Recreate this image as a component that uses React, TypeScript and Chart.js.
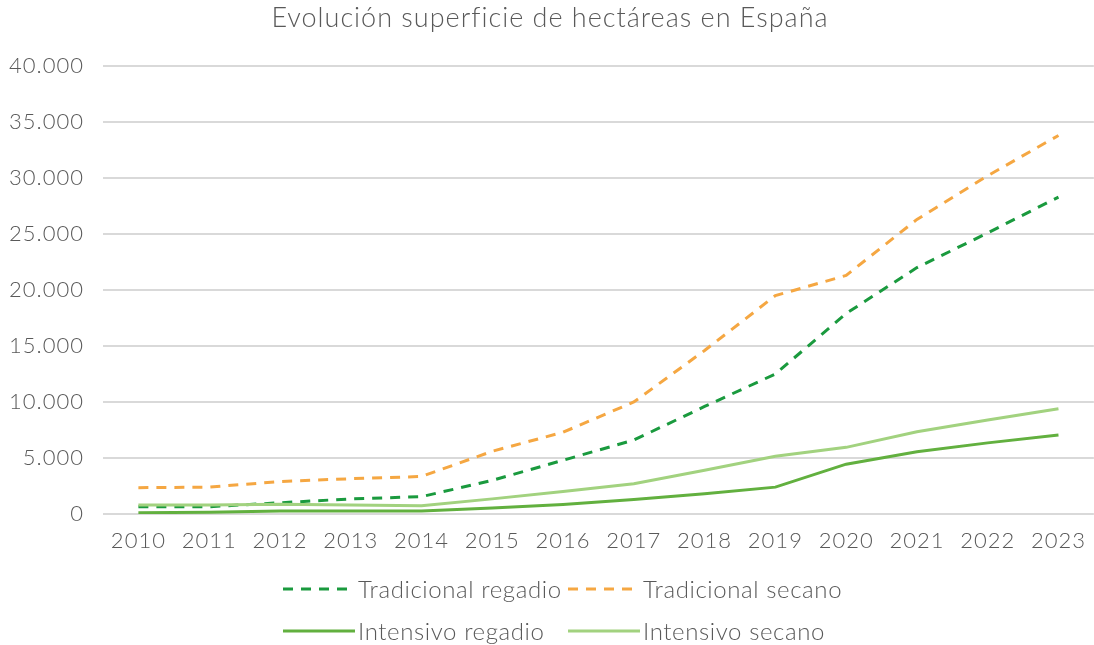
import React, { useEffect, useRef } from "react";
import { Chart, registerables } from "chart.js";

Chart.register(...registerables);

const years = ["2010", "2011", "2012", "2013", "2014", "2015", "2016", "2017", "2018", "2019", "2020", "2021", "2022", "2023"];
const tradicionalRegadio = [650, 650, 1000, 1350, 1550, 3000, 4800, 6600, 9600, 12500, 17900, 22000, 25100, 28300];
const tradicionalSecano = [2350, 2400, 2900, 3150, 3350, 5600, 7300, 10000, 14600, 19500, 21300, 26300, 30200, 33800];
const intensivoRegadio = [120, 150, 270, 270, 270, 540, 850, 1300, 1800, 2400, 4450, 5550, 6350, 7050];
const intensivoSecano = [800, 800, 880, 800, 740, 1350, 2000, 2700, 3900, 5150, 5950, 7350, 8400, 9400];
const seriesNames = ["Tradicional regadio", "Tradicional secano", "Intensivo regadio", "Intensivo secano"];
const seriesColors = ["#1a9a3e", "#f5a742", "#62b03f", "#a2d27f"];
const seriesDashed = [true, true, false, false];
const titleText = "Evolución superficie de hectáreas en España";

const FONT = "Lato, 'Open Sans', sans-serif";
const TEXT = "#595959";
const DASH = [10, 8];

function fmt(v: number): string {
  return String(v).replace(/\B(?=(\d{3})+(?!\d))/g, ".");
}

const spacingPlugin = {
  id: "letterSpacing",
  beforeLayout(chart: any) {
    chart.ctx.letterSpacing = "1px";
  },
  beforeDraw(chart: any) {
    chart.ctx.letterSpacing = "1px";
  },
};

export default function App() {
  const ref = useRef<HTMLCanvasElement | null>(null);

  useEffect(() => {
    if (!ref.current) return;
    const values = [tradicionalRegadio, tradicionalSecano, intensivoRegadio, intensivoSecano];
    const chart = new Chart(ref.current, {
      type: "line",
      data: {
        labels: years,
        datasets: values.map((d, i) => ({
          label: seriesNames[i],
          data: d,
          borderColor: seriesColors[i],
          backgroundColor: seriesColors[i],
          borderWidth: 3,
          borderDash: seriesDashed[i] ? DASH : [],
          borderCapStyle: "butt" as const,
          pointRadius: 0,
          pointHoverRadius: 0,
          tension: 0,
          fill: false,
          order: 4 - i,
        })),
      },
      plugins: [spacingPlugin],
      options: {
        animation: false,
        responsive: false,
        maintainAspectRatio: false,
        layout: { padding: { left: 0, right: 0, top: 0, bottom: 0 } },
        plugins: {
          legend: { display: false },
          tooltip: { enabled: false },
          title: {
            display: true,
            text: titleText,
            color: TEXT,
            font: { family: FONT, size: 27, weight: "300" as any, lineHeight: 1.2 },
            padding: { top: 2, bottom: 31.6 },
          },
        },
        scales: {
          x: {
            offset: true,
            grid: { display: false, drawTicks: false },
            border: { display: false },
            ticks: {
              color: TEXT,
              font: { family: FONT, size: 22, weight: "300" as any },
              padding: 14,
              maxRotation: 0,
              autoSkip: false,
            },
            afterFit: (s: any) => {
              s.height = 131;
            },
          },
          y: {
            min: 0,
            max: 40000,
            grid: { color: "#d9d9d9", lineWidth: 2, drawTicks: false },
            border: { display: false },
            ticks: {
              stepSize: 5000,
              color: TEXT,
              font: { family: FONT, size: 22, weight: "300" as any },
              padding: 19,
              callback: (v: any) => fmt(Number(v)),
            },
            afterFit: (s: any) => {
              s.width = 103;
            },
          },
        },
      },
    });
    return () => chart.destroy();
  }, []);

  const legendPos = [
    { left: 283, top: 588 },
    { left: 568, top: 588 },
    { left: 283, top: 630 },
    { left: 568, top: 630 },
  ];

  return (
    <div style={{ position: "fixed", left: 0, top: 0, width: 1094, height: 645, overflow: "hidden", background: "#fff" }}>
      <canvas ref={ref} width={1100} height={645} style={{ position: "absolute", left: 0, top: 0, width: 1100, height: 645 }} />
      {seriesNames.map((n, i) => (
        <div
          key={n}
          style={{
            position: "absolute",
            left: legendPos[i].left,
            top: legendPos[i].top - 16,
            height: 32,
            display: "flex",
            alignItems: "center",
            fontFamily: FONT,
            fontWeight: 300,
            fontSize: 24,
            letterSpacing: "0.6px",
            color: TEXT,
            whiteSpace: "nowrap",
          }}
        >
          <svg width={72} height={6} style={{ marginRight: 3, marginTop: 2 }}>
            <line
              x1={0}
              y1={3}
              x2={72}
              y2={3}
              stroke={seriesColors[i]}
              strokeWidth={3}
              strokeDasharray={seriesDashed[i] ? DASH.join(" ") : undefined}
            />
          </svg>
          <span>{n}</span>
        </div>
      ))}
    </div>
  );
}
